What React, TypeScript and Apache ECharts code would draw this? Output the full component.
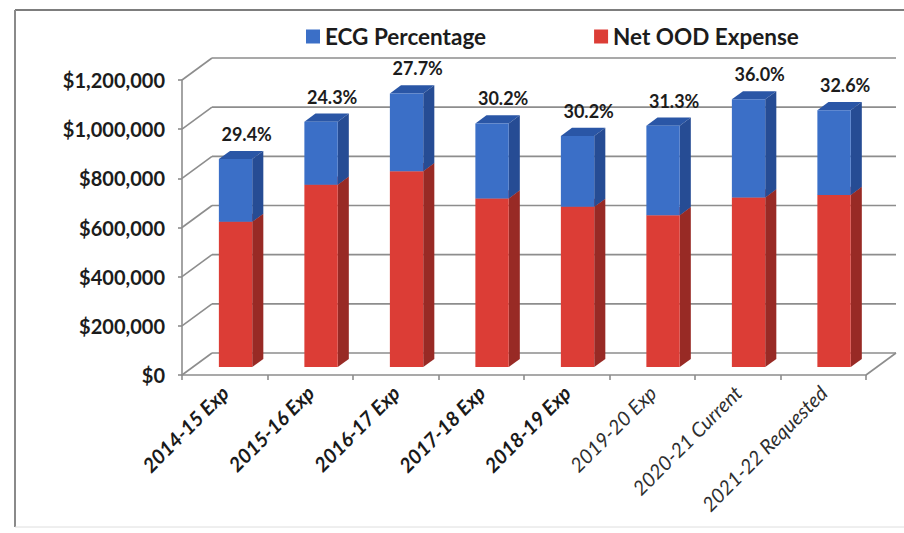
import React, { useEffect, useRef } from "react";
import * as echarts from "echarts";

// Fiscal years on the category axis
const CATEGORIES = [
  "2014-15 Exp",
  "2015-16 Exp",
  "2016-17 Exp",
  "2017-18 Exp",
  "2018-19 Exp",
  "2019-20 Exp",
  "2020-21 Current",
  "2021-22 Requested",
];
// Years printed in bold (actuals); the rest are printed in regular weight
const BOLD_CATEGORIES = [true, true, true, true, true, false, false, false];

// Stacked amounts (dollars)
const NET_OOD_EXPENSE = [591000, 742000, 797000, 686000, 652000, 618000, 690000, 700000];
const ECG_AMOUNT = [255000, 256000, 316000, 305000, 288000, 364000, 399000, 345000];
// ECG share printed above each column
const ECG_PERCENT_LABELS = ["29.4%", "24.3%", "27.7%", "30.2%", "30.2%", "31.3%", "36.0%", "32.6%"];

// Value axis ticks
const Y_TICKS = [0, 200000, 400000, 600000, 800000, 1000000, 1200000];

const FONT = "Lato, 'Open Sans', sans-serif";

// Pseudo-3D projection: the back wall sits up and to the right of the front plane
const DEPTH_X = 30;
const DEPTH_Y = -22;
const FRONT_DEPTH = 0.36; // column front face position within the depth
const COLUMN_DEPTH = 0.37; // column thickness along the depth
const COLUMN_WIDTH_RATIO = 0.39;

const GRID_COLOR = "#8d8d8d";

const RED = { front: "#dc3d36", side: "#982a25", top: "#c0332d" };
const BLUE = { front: "#3b6fc7", side: "#264c94", top: "#2a56a6" };

function formatDollars(v: number) {
  return "$" + Math.round(v).toLocaleString("en-US");
}

function makeColumnRenderer(colors: { front: string; side: string; top: string }, withLabel: boolean) {
  return (params: any, api: any) => {
    const cat = api.value(0);
    const lo = api.value(1);
    const hi = api.value(2);
    const base = api.coord([cat, lo]);
    const top = api.coord([cat, hi]);
    const band = api.size([1, 0])[0];
    const w = band * COLUMN_WIDTH_RATIO;
    const fx = DEPTH_X * FRONT_DEPTH;
    const fy = DEPTH_Y * FRONT_DEPTH;
    const sx = DEPTH_X * COLUMN_DEPTH;
    const sy = DEPTH_Y * COLUMN_DEPTH;
    const xl = base[0] - w / 2 + fx;
    const xr = xl + w;
    const yb = base[1] + fy;
    const yt = top[1] + fy;

    const children: any[] = [
      {
        type: "polygon",
        shape: { points: [[xl, yt], [xr, yt], [xr + sx, yt + sy], [xl + sx, yt + sy]] },
        style: { fill: colors.top },
      },
      {
        type: "polygon",
        shape: { points: [[xr, yb], [xr, yt], [xr + sx, yt + sy], [xr + sx, yb + sy]] },
        style: { fill: colors.side },
      },
      {
        type: "rect",
        shape: { x: xl, y: yt, width: w, height: yb - yt },
        style: { fill: colors.front },
      },
    ];

    if (withLabel) {
      children.push({
        type: "text",
        x: base[0] + DEPTH_X * (FRONT_DEPTH + COLUMN_DEPTH),
        y: yt + sy - 17,
        style: {
          text: ECG_PERCENT_LABELS[params.dataIndex],
          fill: "#1c1c1c",
          fontFamily: FONT,
          fontSize: 18,
          fontWeight: "bold",
          align: "center",
          verticalAlign: "middle",
        },
      });
    }
    return { type: "group", children };
  };
}

// Back wall, side wall and floor rulings for each value tick
function renderWalls(params: any, api: any) {
  const cs = params.coordSys;
  const v = api.value(1);
  const p = api.coord([0, v]);
  const y = p[1];
  const x0 = cs.x;
  const x1 = cs.x + cs.width;
  const style = { stroke: GRID_COLOR, lineWidth: 1.6 };
  const children: any[] = [
    { type: "line", shape: { x1: x0, y1: y, x2: x0 + DEPTH_X, y2: y + DEPTH_Y }, style },
    { type: "line", shape: { x1: x0 + DEPTH_X, y1: y + DEPTH_Y, x2: x1 + DEPTH_X, y2: y + DEPTH_Y }, style },
  ];
  if (v === 0) {
    children.push({ type: "line", shape: { x1: x1, y1: y, x2: x1 + DEPTH_X, y2: y + DEPTH_Y }, style });
  }
  return { type: "group", children };
}

export default function App() {
  const ref = useRef<HTMLDivElement>(null);

  useEffect(() => {
    if (!ref.current) return;
    const chart = echarts.init(ref.current, undefined, { renderer: "svg" });

    const netData = CATEGORIES.map((_, i) => [i, 0, NET_OOD_EXPENSE[i]]);
    const ecgData = CATEGORIES.map((_, i) => [i, NET_OOD_EXPENSE[i], NET_OOD_EXPENSE[i] + ECG_AMOUNT[i]]);

    chart.setOption({
      animation: false,
      backgroundColor: "#ffffff",
      textStyle: { fontFamily: FONT },
      legend: {
        data: ["ECG Percentage", "Net OOD Expense"],
        top: 20,
        left: 301,
        icon: "rect",
        itemWidth: 14,
        itemHeight: 14,
        itemGap: 108,
        textStyle: { fontFamily: FONT, fontSize: 22.5, color: "#1c1c1c", fontWeight: "bold" },
      },
      grid: { left: 182, top: 80, width: 684, height: 295 },
      xAxis: {
        type: "category",
        data: CATEGORIES.map((c, i) => ({
          value: c,
          textStyle: BOLD_CATEGORIES[i]
            ? { fontWeight: "bold", color: "#1a1a1a" }
            : { fontWeight: "normal", color: "#2e2e2e" },
        })),
        axisLine: { show: true, lineStyle: { color: GRID_COLOR, width: 1.6 } },
        axisTick: { show: true, length: 5, lineStyle: { color: GRID_COLOR, width: 1.6 } },
        axisLabel: {
          interval: 0,
          rotate: 45,
          margin: 14,
          fontFamily: FONT,
          fontSize: 20,
          fontStyle: "italic",
        },
      },
      yAxis: {
        type: "value",
        min: 0,
        max: 1200000,
        interval: 200000,
        axisLine: { show: true, lineStyle: { color: GRID_COLOR, width: 1.6 } },
        axisTick: { show: true, length: 4, lineStyle: { color: GRID_COLOR, width: 1.6 } },
        splitLine: { show: false },
        axisLabel: {
          margin: 17,
          fontFamily: FONT,
          fontSize: 20,
          fontWeight: "bold",
          color: "#1c1c1c",
          formatter: (v: number) => formatDollars(v),
        },
      },
      series: [
        {
          name: "walls",
          type: "custom",
          silent: true,
          z: 1,
          data: Y_TICKS.map((v) => [0, v]),
          encode: { x: 0, y: 1 },
          renderItem: renderWalls,
        },
        {
          name: "Net OOD Expense",
          type: "custom",
          z: 3,
          itemStyle: { color: RED.front },
          data: netData,
          encode: { x: 0, y: [1, 2] },
          renderItem: makeColumnRenderer(RED, false),
        },
        {
          name: "ECG Percentage",
          type: "custom",
          z: 4,
          itemStyle: { color: BLUE.front },
          data: ecgData,
          encode: { x: 0, y: [1, 2] },
          renderItem: makeColumnRenderer(BLUE, true),
        },
      ],
      graphic: [
        { type: "line", shape: { x1: 15, y1: 10, x2: 904, y2: 10 }, style: { stroke: "#7d7d7d", lineWidth: 2 } },
        { type: "line", shape: { x1: 15, y1: 10, x2: 15, y2: 527 }, style: { stroke: "#8a8a8a", lineWidth: 2 } },
        { type: "line", shape: { x1: 15, y1: 527, x2: 904, y2: 527 }, style: { stroke: "#dedede", lineWidth: 1 } },
      ],
    });

    return () => chart.dispose();
  }, []);

  return (
    <div
      ref={ref}
      style={{ position: "fixed", left: 0, top: 0, width: 904, height: 533, background: "#fff" }}
    />
  );
}
